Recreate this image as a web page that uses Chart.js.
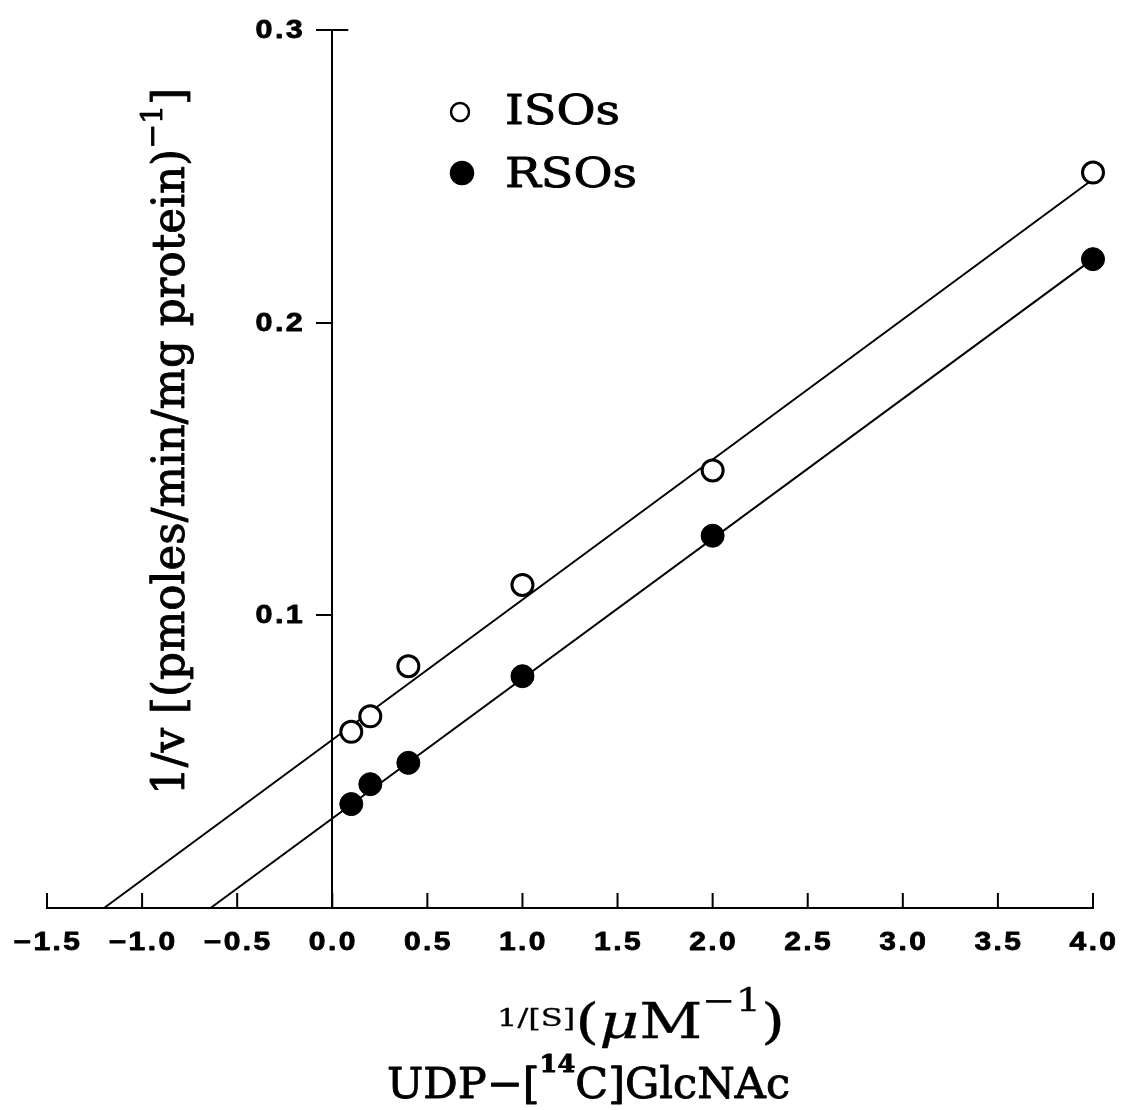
<!DOCTYPE html>
<html>
<head>
<meta charset="utf-8">
<script src="https://cdn.jsdelivr.net/npm/chart.js@4.4.1/dist/chart.umd.min.js"></script>
<style>
  html, body { margin: 0; padding: 0; background: #fff; }
  #wrap { width: 1122px; height: 1110px; }
</style>
</head>
<body>
<div id="wrap"><canvas id="myChart" width="1122" height="1110"></canvas></div>
<script>
// data
const xTickValues = [-1.5, -1.0, -0.5, 0.0, 0.5, 1.0, 1.5, 2.0, 2.5, 3.0, 3.5, 4.0];
const yTickValues = [0.1, 0.2, 0.3];
const substrateInv = [0.1, 0.2, 0.4, 1.0, 2.0, 4.0];
const isoValues = [0.0602, 0.0655, 0.0826, 0.1104, 0.1495, 0.2513];
const rsoValues = [0.0355, 0.0423, 0.0496, 0.0792, 0.1272, 0.2217];
// fitted Lineweaver-Burk lines (end points)
const isoFitX = [-1.2, 4.0];
const isoFitY = [0, 0.249];
const rsoFitX = [-0.64, 4.0];
const rsoFitY = [0, 0.2218];
const seriesNames = ['ISOs', 'RSOs'];

const SERIF = '"DejaVu Serif", serif';
const SANS = '"Liberation Sans", Arial, sans-serif';

function pts(xs, ys) {
    return xs.map((x, i) => ({ x: x, y: ys[i] }));
}

// draw a run of text pieces [text, font, dy]; width stretches it, k scales it
function drawRuns(ctx, parts, x, y, opt) {
    opt = opt || {};
    let w = 0;
    parts.forEach(p => { ctx.font = p[1]; w += ctx.measureText(p[0]).width; });
    const k = opt.width ? opt.width / w : (opt.k || 1);
    ctx.save();
    ctx.translate(x, y);
    if (opt.rotate) ctx.rotate(opt.rotate);
    ctx.scale(k, 1);
    ctx.textAlign = 'left';
    ctx.textBaseline = opt.baseline || 'alphabetic';
    ctx.fillStyle = '#000';
    ctx.strokeStyle = '#000';
    ctx.lineWidth = opt.stroke || 0;
    ctx.lineJoin = 'round';
    let cx = opt.align === 'center' ? -w / 2 : opt.align === 'right' ? -w : 0;
    parts.forEach(p => {
        ctx.font = p[1];
        ctx.fillText(p[0], cx, p[2] || 0);
        if (opt.stroke) ctx.strokeText(p[0], cx, p[2] || 0);
        cx += ctx.measureText(p[0]).width;
    });
    ctx.restore();
}

function fmt(v) {
    return (v < 0 ? '\u2212' : '') + Math.abs(v).toFixed(1);
}

const decorations = {
    id: 'decorations',
    afterDraw(chart) {
        const ctx = chart.ctx;
        const xs = chart.scales.x, ys = chart.scales.y;
        const y0 = ys.getPixelForValue(0);
        const x0 = xs.getPixelForValue(0);

        // inward tick marks on the x axis
        ctx.save();
        ctx.strokeStyle = '#000';
        ctx.lineWidth = 2;
        ctx.beginPath();
        xTickValues.forEach(v => {
            const px = xs.getPixelForValue(v);
            ctx.moveTo(px, y0);
            ctx.lineTo(px, y0 - 15);
        });
        // top of y axis: short cap to the right too
        const yTop = ys.getPixelForValue(0.3);
        ctx.moveTo(x0, yTop);
        ctx.lineTo(x0 + 16, yTop);
        ctx.stroke();
        ctx.restore();

        // tick labels
        const tickFont = 'bold 25px ' + SANS;
        ctx.save();
        ctx.letterSpacing = '2px';
        xTickValues.forEach(v => {
            drawRuns(ctx, [[fmt(v), tickFont]], xs.getPixelForValue(v) + 1, 943,
                { k: 1.2, align: 'center', baseline: 'middle', stroke: 0.8 });
        });
        yTickValues.forEach(v => {
            drawRuns(ctx, [[v.toFixed(1), tickFont]], x0 - 27, ys.getPixelForValue(v) + 1,
                { k: 1.22, align: 'right', baseline: 'middle', stroke: 0.8 });
        });
        ctx.restore();

        // legend
        const ds = chart.data.datasets;
        const legendRows = [
            { d: ds[0], cx: 460, cy: 112, r: 9, tx: 505, ty: 124, w: 115 },
            { d: ds[1], cx: 462, cy: 173, r: 11, tx: 505, ty: 187, w: 132 }
        ];
        legendRows.forEach(row => {
            ctx.save();
            ctx.beginPath();
            ctx.arc(row.cx, row.cy, row.r, 0, Math.PI * 2);
            ctx.fillStyle = row.d.backgroundColor;
            ctx.fill();
            ctx.lineWidth = 2.5;
            ctx.strokeStyle = '#000';
            ctx.stroke();
            ctx.restore();
            drawRuns(ctx, [[row.d.label, '41px ' + SERIF]], row.tx, row.ty, { width: row.w, stroke: 0.9 });
        });

        // y axis title (rotated)
        drawRuns(ctx, [
            ['1/v [(pmoles/min/mg protein)', '44px ' + SERIF],
            ['\u22121', '30px ' + SERIF, -22],
            [']', '44px ' + SERIF]
        ], 184, 795, { width: 707, rotate: -Math.PI / 2, stroke: 0.9 });

        // x axis title, two lines
        drawRuns(ctx, [
            ['1/[S]', '25px ' + SERIF, -12],
            ['(', '48px ' + SERIF],
            ['\u03bc', 'italic 48px ' + SERIF],
            ['M', '48px ' + SERIF],
            ['\u22121', '31px ' + SERIF, -27],
            [')', '48px ' + SERIF]
        ], 497, 1038, { width: 288, stroke: 0.3 });
        drawRuns(ctx, [
            ['UDP\u2212[', '42px ' + SERIF],
            ['14', 'bold 25px ' + SERIF, -26],
            ['C]GlcNAc', '42px ' + SERIF]
        ], 387, 1098, { width: 403, stroke: 0.9 });
    }
};

const ctx = document.getElementById('myChart').getContext('2d');
new Chart(ctx, {
    type: 'scatter',
    data: {
        datasets: [
            {
                label: seriesNames[0],
                data: pts(substrateInv, isoValues),
                backgroundColor: '#fff',
                borderColor: '#000',
                borderWidth: 3,
                pointRadius: 10.5,
                order: 1
            },
            {
                label: seriesNames[1],
                data: pts(substrateInv, rsoValues),
                backgroundColor: '#000',
                borderColor: '#000',
                borderWidth: 1,
                pointRadius: 11.5,
                order: 1
            },
            {
                label: seriesNames[0] + ' fit',
                data: pts(isoFitX, isoFitY),
                showLine: true,
                borderColor: '#000',
                borderWidth: 2,
                pointRadius: 0,
                order: 2
            },
            {
                label: seriesNames[1] + ' fit',
                data: pts(rsoFitX, rsoFitY),
                showLine: true,
                borderColor: '#000',
                borderWidth: 2,
                pointRadius: 0,
                order: 2
            }
        ]
    },
    options: {
        responsive: false,
        animation: false,
        devicePixelRatio: 1,
        clip: false,
        layout: { padding: { left: 47, right: 29, top: 30, bottom: 0 } },
        plugins: { legend: { display: false }, tooltip: { enabled: false } },
        scales: {
            x: {
                type: 'linear',
                min: -1.5,
                max: 4.0,
                ticks: { display: false, stepSize: 0.5 },
                grid: { drawOnChartArea: false, drawTicks: false },
                border: { display: true, color: '#000', width: 2 },
                afterFit(scale) { scale.height = 202; }
            },
            y: {
                type: 'linear',
                position: { x: 0 },
                min: 0,
                max: 0.3,
                ticks: { display: false, stepSize: 0.1 },
                grid: { drawOnChartArea: false, drawTicks: true, tickLength: 15, color: '#000', lineWidth: 2 },
                border: { display: true, color: '#000', width: 2 }
            }
        }
    },
    plugins: [decorations]
});
</script>
</body>
</html>
